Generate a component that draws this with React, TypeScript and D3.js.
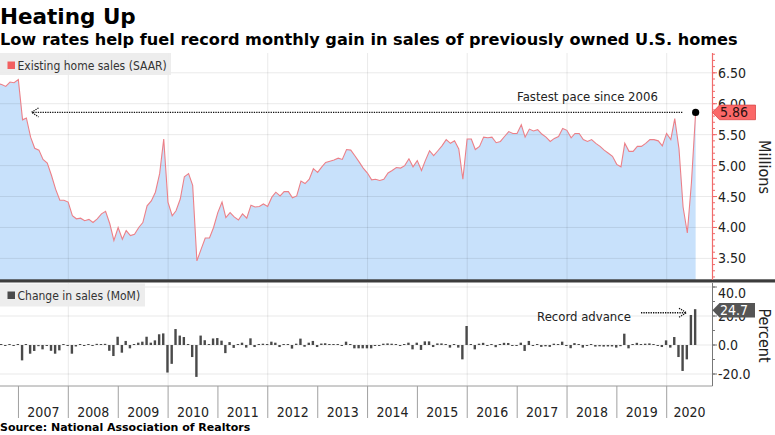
import React from "react";
import * as d3 from "d3";

const W = 775;
const H = 435;

// Existing home sales, SAAR, millions — monthly from Jul 2006 to Jul 2020
const startYear = 2006;
const startMonth = 6; // July (0-based)
const salesLevels: number[] = [
  6.33, 6.31, 6.28, 6.35, 6.34, 6.39,
  5.74, 5.77, 5.46, 5.28, 5.25, 5.10, 5.04, 4.84, 4.62, 4.44, 4.44, 4.41,
  4.19, 4.14, 4.15, 4.11, 4.13, 4.08, 4.14, 4.22, 4.26, 4.06, 3.79, 4.00,
  3.81, 3.95, 3.87, 3.89, 4.00, 4.08, 4.35, 4.43, 4.57, 4.87, 5.43, 4.41,
  4.19, 4.27, 4.46, 4.82, 4.87, 4.68, 3.46, 3.65, 3.83, 3.83, 4.00, 4.24,
  4.41, 4.16, 4.24, 4.17, 4.12, 4.22, 4.15, 4.36, 4.33, 4.34, 4.38, 4.34,
  4.49, 4.57, 4.51, 4.58, 4.58, 4.48, 4.51, 4.75, 4.71, 4.78, 4.95, 4.89,
  4.98, 5.05, 5.07, 5.09, 5.12, 5.10, 5.26, 5.25, 5.16, 5.06, 4.96, 4.88,
  4.77, 4.78, 4.76, 4.78, 4.88, 4.92, 4.97, 4.96, 5.00, 5.11, 4.98, 5.08,
  4.92, 5.08, 5.24, 5.16, 5.24, 5.32, 5.42, 5.36, 5.40, 5.27, 4.78, 5.43,
  5.43, 5.26, 5.31, 5.46, 5.45, 5.46, 5.37, 5.39, 5.47, 5.55, 5.52, 5.52,
  5.66, 5.46, 5.59, 5.56, 5.58, 5.51, 5.46, 5.39, 5.44, 5.47, 5.60, 5.57,
  5.45, 5.52, 5.52, 5.42, 5.39, 5.42, 5.36, 5.31, 5.25, 5.20, 5.15, 5.02,
  4.98, 5.36, 5.23, 5.23, 5.31, 5.31, 5.36, 5.42, 5.42, 5.40, 5.32, 5.52,
  5.42, 5.76, 5.27, 4.33, 3.91, 4.72, 5.86,
];

// Month-over-month change in sales, percent — same months
const momChange: number[] = [
  0.4, 0.3, -0.5, 0.6, -0.3, 0.6,
  -10.6, 0.6, -6.0, -4.1, -0.8, -3.0, -0.6, -4.0, -6.0, -3.7, 0.5, -0.5,
  -6.0, -1.0, 0.3, -0.5, 0.4, -0.5, 0.8, 0.5, 0.8, -4.0, -7.6, 5.7,
  -5.3, 2.8, -2.3, 0.6, 1.6, 2.3, 5.7, 1.6, 3.2, 7.4, 8.0, -19.0,
  -13.0, 11.0, 6.5, 5.5, 0.6, -8.3, -22.0, 6.5, 3.3, 0.5, 4.5, 4.8,
  3.0, -5.6, 2.0, -2.0, 0.4, 1.6, -1.8, 4.6, -1.4, 0.3, 0.9, 0.3,
  2.3, 1.6, -1.4, 0.5, 0.3, -2.5, 0.9, 4.4, -1.2, 1.6, 2.8, -1.4,
  1.0, 1.2, 0.3, 0.4, 0.3, -0.5, 2.3, 0.2, -2.3, -2.3, -2.3, -2.3,
  -2.3, -0.3, -0.3, 0.9, 1.1, 0.9, 0.3, -0.3, 0.3, 1.6, -3.0, 1.6,
  -3.4, 2.5, 2.5, -1.4, 1.1, 1.1, 0.3, -1.8, 0.4, -1.8, -9.9, 13.1,
  0.3, -3.0, 0.9, 1.5, -0.2, 0.3, -1.5, 0.4, 1.5, 1.4, -0.5, -0.3,
  1.6, -4.1, 2.8, -0.5, 0.4, -1.3, -0.9, -1.3, 0.9, 0.6, 2.3, -0.5,
  -2.2, 1.3, 0.2, -1.8, -0.6, 0.6, -1.1, -0.9, -1.1, -1.0, -1.0, -1.8,
  -0.8, 7.8, -2.3, 0.2, 1.5, 0.2, 0.9, 1.1, 0.2, -0.4, -1.4, 3.2,
  -1.8, 5.5, -8.3, -17.9, -9.9, 20.7, 24.7,
];

const yearLabels: number[] = [2007, 2008, 2009, 2010, 2011, 2012, 2013, 2014, 2015, 2016, 2017, 2018, 2019, 2020];
const gridYears: number[] = [2008, 2010, 2012, 2014, 2016, 2018, 2020];
const salesTicks: number[] = [3.5, 4.0, 4.5, 5.0, 5.5, 6.0, 6.5];
const pctTicks: number[] = [-20, 0, 20, 40];

const title = "Heating Up";
const subtitle = "Low rates help fuel record monthly gain in sales of previously owned U.S. homes";
const source = "Source: National Association of Realtors";
const legendTop = "Existing home sales (SAAR)";
const legendBottom = "Change in sales (MoM)";
const noteTop = "Fastest pace since 2006";
const noteBottom = "Record advance";

const REG = "'DejaVu Sans Condensed', 'Liberation Sans', Arial, sans-serif";
const BOLD = "'DejaVu Sans', Verdana, sans-serif";

export default function App() {
  const PL = 0;
  const PR = 712.5;
  const TT = 53;
  const TB = 280;
  const BT = 283;
  const BB = 386;

  const x = d3
    .scaleTime()
    .domain([new Date(2008, 0, 1), new Date(2020, 0, 1)])
    .range([68.3, 666.7]);
  const yTop = d3.scaleLinear().domain([3.5, 6.5]).range([258.4, 72.8]);
  const yBot = d3.scaleLinear().domain([-20, 40]).range([374, 287]);

  const dates = salesLevels.map((_, i) => new Date(startYear, startMonth + i + 1, 0));
  const pts = salesLevels.map((v, i) => ({ d: dates[i], v }));
  const bars = momChange.map((v, i) => ({ d: dates[i], v }));

  const area = d3
    .area<{ d: Date; v: number }>()
    .x((p) => x(p.d))
    .y0(TB)
    .y1((p) => yTop(p.v));
  const line = d3
    .line<{ d: Date; v: number }>()
    .x((p) => x(p.d))
    .y((p) => yTop(p.v));

  const last = pts[pts.length - 1];
  const lastBar = bars[bars.length - 1];
  const lx = x(last.d);
  const ly = yTop(last.v);
  const by = yBot(lastBar.v);

  const minorTop = d3.range(31, 69).map((i) => i / 10).filter((v) => yTop(v) > TT && yTop(v) < TB);
  const minorBot = d3.range(-2, 5).map((i) => i * 10).filter((v) => yBot(v) > BT && yBot(v) < BB);

  const gridCol = "rgba(0,0,0,0.085)";
  const txt = "#222";

  return (
    <div style={{ position: "absolute", left: 0, top: 0, width: W, height: H, background: "#fff" }}>
      <svg width={W} height={H} style={{ display: "block" }}>
        <defs>
          <clipPath id="plotClip">
            <rect x={PL} y={TT} width={PR - PL} height={BB - TT} />
          </clipPath>
        </defs>

        {/* Titles */}
        <text x={0} y={23.5} fontFamily={BOLD} fontWeight="bold" fontSize={21.5} fill="#000">
          {title}
        </text>
        <text x={0} y={44.5} fontFamily={BOLD} fontWeight="bold" fontSize={16.15} fill="#000">
          {subtitle}
        </text>

        <g clipPath="url(#plotClip)">
          {/* area + line */}
          <path d={area(pts) || ""} fill="#c8e1fb" />
          {/* grid top */}
          {salesTicks.map((t) => (
            <line key={"gt" + t} x1={PL} x2={PR} y1={yTop(t)} y2={yTop(t)} stroke={gridCol} strokeWidth={1} />
          ))}
          {gridYears.map((yr) => (
            <line
              key={"gv" + yr}
              x1={x(new Date(yr, 0, 1))}
              x2={x(new Date(yr, 0, 1))}
              y1={TT}
              y2={TB}
              stroke={gridCol}
              strokeWidth={1}
            />
          ))}
          <path d={line(pts) || ""} fill="none" stroke="#ec8088" strokeWidth={1.1} />

          {/* grid bottom */}
          {pctTicks.map((t) => (
            <line key={"gb" + t} x1={PL} x2={PR} y1={yBot(t)} y2={yBot(t)} stroke={gridCol} strokeWidth={1} />
          ))}
          {gridYears.map((yr) => (
            <line
              key={"gvb" + yr}
              x1={x(new Date(yr, 0, 1))}
              x2={x(new Date(yr, 0, 1))}
              y1={BT}
              y2={BB}
              stroke={gridCol}
              strokeWidth={1}
            />
          ))}
        </g>

        {/* legend top */}
        <rect x={0} y={53} width={171} height={22} fill="#ececec" opacity={0.92} />
        <rect x={7.5} y={61.5} width={7.5} height={7.5} fill="#f26060" />
        <text x={17.5} y={69.5} fontFamily={REG} fontSize={12} fill="#333">
          {legendTop}
        </text>

        {/* bars */}
        <g clipPath="url(#plotClip)">
          {bars.map((b, i) => {
            const y0 = yBot(0);
            const y1 = yBot(b.v);
            const h = Math.max(1, Math.abs(y1 - y0));
            const top = b.v >= 0 ? y0 - h : y0;
            return <rect key={"b" + i} x={x(b.d) - 1.7} y={top} width={2.4} height={h} fill="#4a4a4a" />;
          })}
        </g>

        {/* legend bottom */}
        <rect x={0} y={283.5} width={145} height={23} fill="#ececec" opacity={0.92} />
        <rect x={7.5} y={291.5} width={7.5} height={7.5} fill="#4a4a4a" />
        <text x={17.5} y={299.5} fontFamily={REG} fontSize={12} fill="#333">
          {legendBottom}
        </text>

        {/* panel separator */}
        <rect x={0} y={279.3} width={W} height={3.2} fill="#3c3c3c" />

        {/* bottom panel frame */}
        <line x1={PL} x2={PR} y1={BB} y2={BB} stroke="#9a9a9a" strokeWidth={1} />
        <line x1={PR} x2={PR} y1={BT} y2={BB} stroke="#777" strokeWidth={1} />

        {/* year ticks & labels */}
        {yearLabels.map((yr) => {
          const xs = x(new Date(yr, 0, 1));
          const xe = Math.min(x(new Date(yr + 1, 0, 1)), PR);
          return (
            <g key={"yr" + yr}>
              <line x1={xs} x2={xs} y1={BB} y2={418} stroke="#a0a0a0" strokeWidth={1} />
              <text x={(xs + xe) / 2} y={416.5} textAnchor="middle" fontFamily={REG} fontSize={14} fill={txt}>
                {yr}
              </text>
            </g>
          );
        })}

        {/* top right axis */}
        <line x1={PR} x2={PR} y1={TT} y2={TB} stroke="#f06a6a" strokeWidth={1.2} />
        {minorTop.map((v) => (
          <line key={"mt" + v} x1={PR} x2={PR + 2.5} y1={yTop(v)} y2={yTop(v)} stroke="#f06a6a" strokeWidth={1} />
        ))}
        {salesTicks.map((t) => (
          <g key={"at" + t}>
            <line x1={PR} x2={PR + 4.5} y1={yTop(t)} y2={yTop(t)} stroke="#f06a6a" strokeWidth={1} />
            <text x={718} y={yTop(t) + 5} fontFamily={REG} fontSize={14} fill={txt}>
              {t.toFixed(2)}
            </text>
          </g>
        ))}
        <text
          transform={`translate(758.5,${(TT + TB) / 2 + 0.5}) rotate(90)`}
          textAnchor="middle"
          fontFamily={REG}
          fontSize={16}
          fill={txt}
        >
          Millions
        </text>

        {/* bottom right axis */}
        {minorBot.map((v) => (
          <line key={"mb" + v} x1={PR} x2={PR + 2.5} y1={yBot(v)} y2={yBot(v)} stroke="#777" strokeWidth={1} />
        ))}
        {pctTicks.map((t) => (
          <g key={"ab" + t}>
            <line x1={PR} x2={PR + 4.5} y1={yBot(t)} y2={yBot(t)} stroke="#777" strokeWidth={1} />
            <text x={718} y={Math.max(yBot(t), 292.5) + 5} fontFamily={REG} fontSize={14} fill={txt}>
              {t.toFixed(1)}
            </text>
          </g>
        ))}
        <text
          transform={`translate(758.5,335.5) rotate(90)`}
          textAnchor="middle"
          fontFamily={REG}
          fontSize={16}
          fill={txt}
        >
          Percent
        </text>

        {/* annotation top */}
        <line x1={33} x2={683} y1={ly} y2={ly} stroke="#111" strokeWidth={1.4} strokeDasharray="1.3 1.1" />
        <path
          d={`M38.5,${ly - 4.5} L31.5,${ly} L38.5,${ly + 4.5}`}
          fill="none"
          stroke="#111"
          strokeWidth={1.2}
          strokeDasharray="1.3 1"
        />
        <text x={587.5} y={101.3} textAnchor="middle" fontFamily={REG} fontSize={13} fill={txt}>
          {noteTop}
        </text>
        <circle cx={lx} cy={ly} r={3.6} fill="#000" />

        {/* annotation bottom */}
        <line x1={641} x2={686} y1={312.7} y2={312.7} stroke="#111" strokeWidth={1.4} strokeDasharray="1.3 1.1" />
        <path d={`M679,308.2 L686.5,312.7 L679,317.2`} fill="none" stroke="#111" strokeWidth={1.2} strokeDasharray="1.3 1" />
        <text x={584} y={320.5} textAnchor="middle" fontFamily={REG} fontSize={13} fill={txt}>
          {noteBottom}
        </text>

        {/* value tags */}
        <path
          d={`M${PR},${ly} L${PR + 7},${ly - 7.3} L755.5,${ly - 7.3} L755.5,${ly + 7.3} L${PR + 7},${ly + 7.3} Z`}
          fill="#fb6868"
          stroke="#d84848"
          strokeWidth={0.8}
        />
        <text x={720} y={ly + 5} fontFamily={REG} fontSize={14} fill="#2a1010">
          {last.v.toFixed(2)}
        </text>
        <path
          d={`M${PR},${by + 1} L${PR + 7},${by - 6.3} L755,${by - 6.3} L755,${by + 8.3} L${PR + 7},${by + 8.3} Z`}
          fill="#555"
        />
        <text x={720} y={by + 6.2} fontFamily={REG} fontSize={14} fill="#fff">
          {lastBar.v.toFixed(1)}
        </text>

        {/* source */}
        <text x={0} y={431} fontFamily={BOLD} fontWeight="bold" fontSize={11} fill="#000">
          {source}
        </text>
      </svg>
    </div>
  );
}
